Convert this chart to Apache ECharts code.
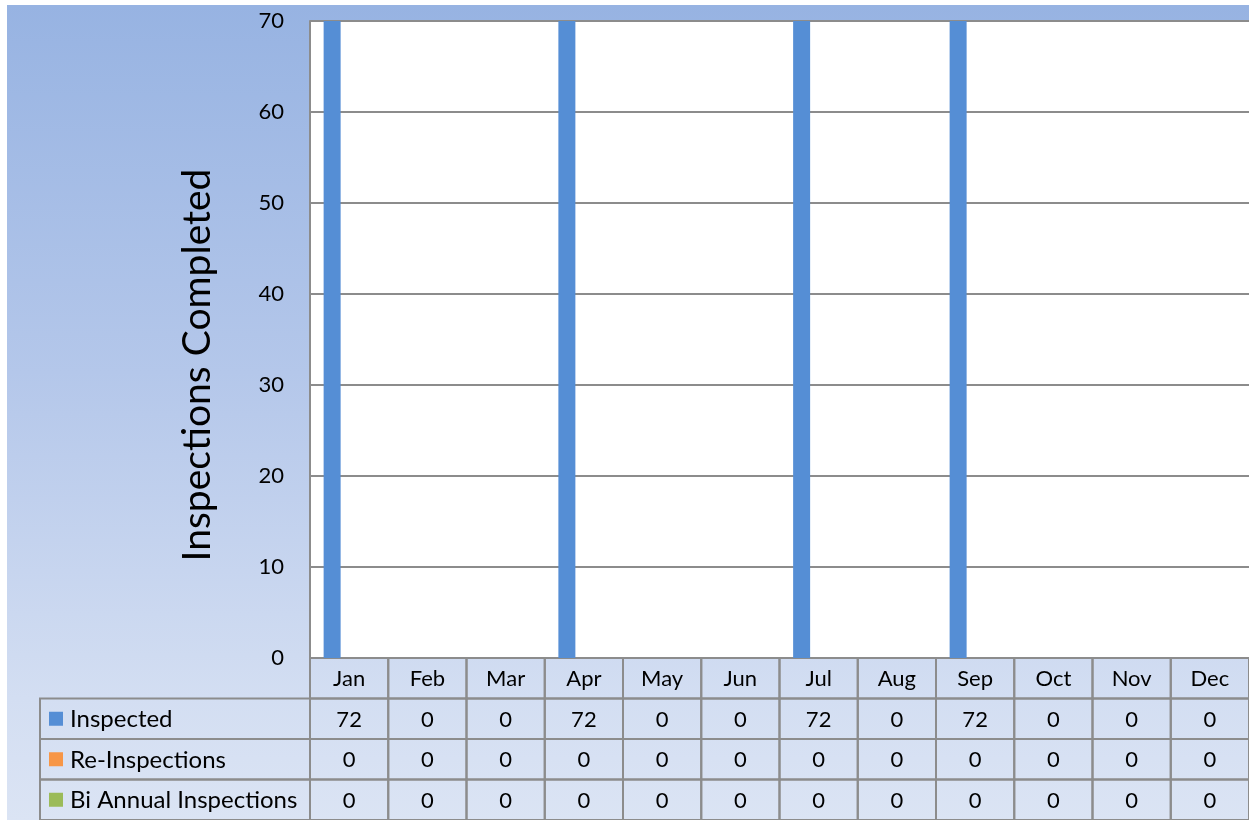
<!DOCTYPE html>
<html>
<head>
<meta charset="utf-8">
<script src="https://cdn.jsdelivr.net/npm/echarts@6/dist/echarts.min.js"></script>
<style>
html,body{margin:0;padding:0;background:#fff;overflow:hidden;}
#bg{position:absolute;left:7px;top:5px;width:1242px;height:815px;background:linear-gradient(to bottom,#97b3e2 0%,#b4c7ea 45%,#d3def2 85%,#dbe4f4 100%);}
#chart{position:absolute;left:0;top:0;width:1249px;height:820px;}
</style>
</head>
<body>
<div id="bg"></div>
<div id="chart"></div>
<script>
const months = ['Jan','Feb','Mar','Apr','May','Jun','Jul','Aug','Sep','Oct','Nov','Dec'];
const seriesNames = ['Inspected','Re-Inspections','Bi Annual Inspections'];
const inspected = [72,0,0,72,0,0,72,0,72,0,0,0];
const reInspections = [0,0,0,0,0,0,0,0,0,0,0,0];
const biAnnual = [0,0,0,0,0,0,0,0,0,0,0,0];
const yTicks = [0,10,20,30,40,50,60,70];
const yAxisTitle = 'Inspections Completed';
const colors = ['#558ed5','#f79646','#9bbb59'];

const allValues = [inspected, reInspections, biAnnual];
const FONT = 'Lato, "Open Sans", sans-serif';
const LINE = '#8c8c8c';
const TABLE_LEFT = 40;

// table cells: [col, row, text, kind, colorIdx]
const cells = [];
months.forEach((m, c) => cells.push([c, 0, m, 'h', -1]));
allValues.forEach((vals, r) => {
  cells.push([-1, r + 1, seriesNames[r], 'l', r]);
  vals.forEach((v, c) => cells.push([c, r + 1, String(v), 'v', -1]));
});

const chart = echarts.init(document.getElementById('chart'), null, {renderer: 'canvas'});
chart.setOption({
  backgroundColor: 'transparent',
  animation: false,
  graphic: [{
    type: 'text', x: 197, y: 365, rotation: Math.PI / 2,
    style: {text: yAxisTitle, align: 'center', verticalAlign: 'middle',
            fill: '#000', font: '39px ' + FONT}
  }],
  grid: [
    {left: 310, top: 21, right: 0, height: 637, show: true, backgroundColor: '#ffffff', borderWidth: 0},
    {left: 310, top: 658, right: 0, height: 166}
  ],
  xAxis: [
    {type: 'category', gridIndex: 0, data: months,
     axisLine: {show: true, lineStyle: {color: LINE, width: 2}},
     axisTick: {show: false}, axisLabel: {show: false}, splitLine: {show: false}},
    {type: 'value', gridIndex: 1, min: -0.5, max: 11.5, show: false}
  ],
  yAxis: [
    {type: 'value', gridIndex: 0, min: yTicks[0], max: yTicks[yTicks.length - 1], interval: 10,
     axisLine: {show: true, lineStyle: {color: LINE, width: 2}},
     axisTick: {show: false},
     axisLabel: {fontSize: 22, color: '#000', fontFamily: FONT, margin: 26},
     splitLine: {show: true, lineStyle: {color: LINE, width: 2}}},
    {type: 'value', gridIndex: 1, min: 0, max: 4, inverse: true, show: false}
  ],
  series: [
    ...allValues.map((vals, i) => ({
      name: seriesNames[i], type: 'bar', xAxisIndex: 0, yAxisIndex: 0,
      data: vals, barWidth: 17, barGap: '0%', clip: true,
      itemStyle: {color: colors[i]}
    })),
    {
      type: 'custom', xAxisIndex: 1, yAxisIndex: 1, clip: false,
      data: cells,
      renderItem: function (params, api) {
        const c = api.value(0), r = api.value(1);
        const item = cells[params.dataIndex];
        const text = item[2], kind = item[3], ci = item[4];
        const tl = api.coord([c - 0.5, r]);
        const br = api.coord([c + 0.5, r + 1]);
        let x0 = tl[0], y0 = tl[1], x1 = br[0], y1 = br[1];
        if (kind === 'l') { x0 = TABLE_LEFT; x1 = api.coord([-0.5, r])[0]; }
        const children = [{
          type: 'rect',
          shape: {x: x0, y: y0, width: x1 - x0, height: y1 - y0},
          style: {fill: 'none', stroke: LINE, lineWidth: 2}
        }];
        const cy = (y0 + y1) / 2;
        if (kind === 'l') {
          children.push({type: 'rect', shape: {x: x0 + 9, y: cy - 7, width: 14, height: 14},
            style: {fill: colors[ci]}});
          children.push({type: 'text', style: {text: text, x: x0 + 30, y: cy + 1,
            align: 'left', verticalAlign: 'middle', fill: '#000', font: '24px ' + FONT}});
        } else {
          children.push({type: 'text', style: {text: text, x: (x0 + x1) / 2, y: cy + 1,
            align: 'center', verticalAlign: 'middle', fill: '#000', font: '22px ' + FONT}});
        }
        return {type: 'group', children: children};
      }
    }
  ]
});
</script>
</body>
</html>
